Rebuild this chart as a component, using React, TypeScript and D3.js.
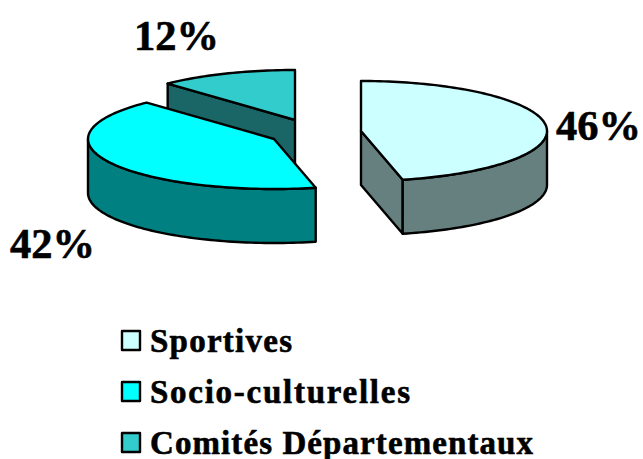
import React from "react";
import * as d3 from "d3";

const categories = ["Sportives", "Socio-culturelles", "Comités Départementaux"];
const shares = [46.4, 41.6, 12];
const labels = ["46%", "42%", "12%"];
const topColors = ["#ccffff", "#00ffff", "#33cccc"];
const outerColors = ["#668080", "#008080", "#1a6666"];
const centers: [number, number][] = [[361, 131], [274, 139], [295, 120]];
const labelAnchors: [number, number][] = [[556, 140], [10, 258], [134, 50]];
const legendY = [341, 392, 443];
const legendWidths = [142, 260, 383];

const W = 643, H = 459, RX = 186, RY = 50, DEPTH = 54;

const arcs = d3.pie<number>().sort(null)(shares);
const line = d3.line<[number, number]>();

function rim(c: [number, number], a: number, dy = 0): [number, number] {
  return [c[0] + RX * Math.sin(a), c[1] - RY * Math.cos(a) + dy];
}
function sweep(c: [number, number], a0: number, a1: number, dy = 0) {
  const n = Math.max(2, Math.ceil(Math.abs(a1 - a0) * 40));
  return d3.range(n + 1).map((i) => rim(c, a0 + ((a1 - a0) * i) / n, dy));
}

const stroke = { stroke: "#000", strokeWidth: 2.4, strokeLinejoin: "round" as const };
const textInk = { stroke: "#000", strokeWidth: 0.6, fill: "#000", fontFamily: "'Liberation Serif'", fontWeight: "bold" };

export default function App() {
  const order = [2, 1, 0];
  return (
    <svg width={W} height={H} viewBox={`0 0 ${W} ${H}`} style={{ position: "absolute", left: 0, top: 0, background: "#fff" }}>
      {order.map((i) => {
        const c = centers[i];
        const { startAngle: a0, endAngle: a1 } = arcs[i];
        const top = [c, ...sweep(c, a0, a1)];
        // Radial cut wall facing the viewer
        const radial = i === 0 ? a1 : i === 2 ? a0 : null;
        const wallA = radial !== null ? rim(c, radial) : null;
        // Outer wall: front half of the ellipse only
        const fa0 = Math.max(a0, Math.PI / 2), fa1 = Math.min(a1, (3 * Math.PI) / 2);
        const outer = fa1 > fa0 ? [...sweep(c, fa0, fa1), ...sweep(c, fa1, fa0, DEPTH)] : null;
        return (
          <g key={categories[i]}>
            {wallA && (
              <path
                d={line([c, wallA, [wallA[0], wallA[1] + DEPTH], [c[0], c[1] + DEPTH]])! + "Z"}
                fill={outerColors[i]}
                {...stroke}
              />
            )}
            {outer && <path d={line(outer)! + "Z"} fill={outerColors[i]} {...stroke} />}
            <path d={line(top as [number, number][])! + "Z"} fill={topColors[i]} {...stroke} />
          </g>
        );
      })}
      {labels.map((t, i) => (
        <text key={t} x={labelAnchors[i][0]} y={labelAnchors[i][1]} fontSize={42.5} {...textInk}>
          {t}
        </text>
      ))}
      {categories.map((t, i) => (
        <g key={t}>
          <rect x={122} y={legendY[i] - 10} width={18} height={19} fill={topColors[i]} {...stroke} />
          <text x={150} y={legendY[i] + 11} fontSize={33} textLength={legendWidths[i]} lengthAdjust="spacing" {...textInk}>
            {t}
          </text>
        </g>
      ))}
    </svg>
  );
}
